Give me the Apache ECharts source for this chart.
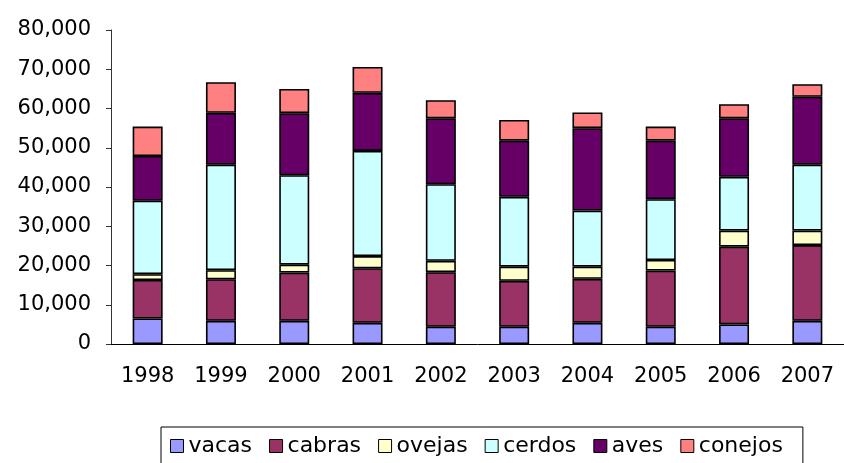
<!DOCTYPE html>
<html>
<head>
<meta charset="utf-8">
<script src="https://cdn.jsdelivr.net/npm/echarts@6/dist/echarts.min.js"></script>
<style>
html,body{margin:0;padding:0;background:#fff;}
#chart{width:844px;height:463px;}
</style>
</head>
<body>
<div id="chart"></div>
<script>
const years = ['1998','1999','2000','2001','2002','2003','2004','2005','2006','2007'];
const seriesNames = ['vacas','cabras','ovejas','cerdos','aves','conejos'];
const vacas   = [6500, 5900, 5900, 5400, 4400, 4400, 5400, 4400, 5000, 5900];
const cabras  = [9800, 10600, 12300, 13900, 13900, 11700, 11200, 14300, 19800, 19300];
const ovejas  = [1500, 2300, 2000, 3100, 2900, 3600, 3100, 2700, 4100, 3700];
const cerdos  = [18700, 26900, 22800, 26800, 19500, 17800, 14300, 15500, 13700, 16800];
const aves    = [11400, 13200, 15800, 14800, 16800, 14300, 21000, 14900, 14900, 17300];
const conejos = [7500, 7800, 6200, 6600, 4600, 5300, 4000, 3600, 3600, 3200];
const yTicks = [0, 10000, 20000, 30000, 40000, 50000, 60000, 70000, 80000];

const colors = ['#9999FF', '#993366', '#FFFFCC', '#CCFFFF', '#660066', '#FF8080'];
const dataArr = [vacas, cabras, ovejas, cerdos, aves, conejos];
const font = 'DejaVu Sans';

const chart = echarts.init(document.getElementById('chart'));
chart.setOption({
  animation: false,
  backgroundColor: '#fff',
  color: colors,
  grid: {left: 111, top: 30, width: 737, height: 314, containLabel: false},
  legend: {
    left: 161, top: 427,
    padding: [8, 20, 20, 9],
    borderColor: '#000', borderWidth: 1,
    itemWidth: 13, itemHeight: 13, itemGap: 17,
    icon: 'rect',
    itemStyle: {borderColor: '#000', borderWidth: 1},
    textStyle: {fontFamily: font, fontSize: 22, color: '#000', padding: [0,0,0,0]},
    data: seriesNames
  },
  xAxis: {
    type: 'category',
    data: years,
    axisLine: {lineStyle: {color: '#000', width: 1}},
    axisTick: {length: 7, lineStyle: {color: '#000'}},
    axisLabel: {fontFamily: font, fontSize: 21, color: '#000', margin: 22}
  },
  yAxis: {
    type: 'value',
    min: 0, max: 80000, interval: 10000,
    axisLine: {show: true, lineStyle: {color: '#333', width: 1}},
    axisTick: {show: true, length: 5, lineStyle: {color: '#333'}},
    splitLine: {show: false},
    axisLabel: {
      fontFamily: font, fontSize: 21, color: '#000', margin: 20,
      formatter: v => yTicks.includes(v) ? v.toLocaleString('en-US') : ''
    }
  },
  series: seriesNames.map((n, i) => ({
    name: n,
    type: 'bar',
    stack: 'total',
    barWidth: 30,
    data: dataArr[i],
    itemStyle: {color: colors[i], borderColor: '#000', borderWidth: 1.6}
  }))
});
</script>
</body>
</html>
